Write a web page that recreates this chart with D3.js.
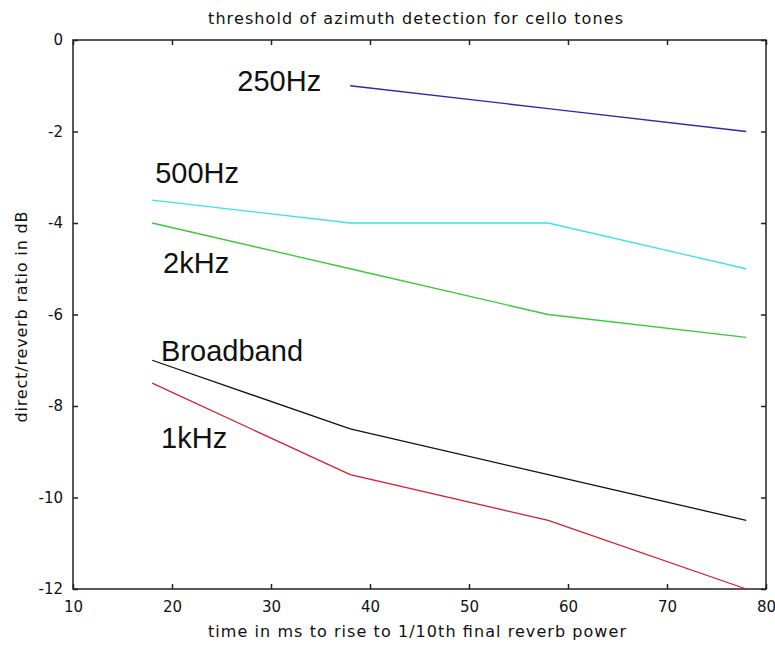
<!DOCTYPE html>
<html>
<head>
<meta charset="utf-8">
<script src="https://cdn.jsdelivr.net/npm/d3@7"></script>
<style>
  body { margin: 0; background: #fff; }
  svg text { font-family: "Liberation Sans", Arial, sans-serif; fill: #111; }
  svg .small { font-family: "DejaVu Sans", sans-serif; }
</style>
</head>
<body>
<div id="chart"></div>
<script>
// values
const rise_times = [18, 38, 58, 78]
const xTicks = [10, 20, 30, 40, 50, 60, 70, 80]
const yTicks = [0, -2, -4, -6, -8, -10, -12]

const series_names = ["250Hz", "500Hz", "2kHz", "Broadband", "1kHz"]
const thr_250 = [null, -1, -1.5, -2]
const thr_500 = [-3.5, -4, -4, -5]
const thr_2k = [-4, -5, -6, -6.5]
const thr_broad = [-7, -8.5, -9.5, -10.5]
const thr_1k = [-7.5, -9.5, -10.5, -12]
const colors = ["#2a2aa6", "#3ee0e6", "#3cc83c", "#111111", "#d41e2e"]

// where the curve names sit, in data units
const label_x = [26.6, 18.3, 19.1, 18.9, 18.9]
const label_y = [-1.11, -3.13, -5.09, -7.02, -8.92]

const width = 775, height = 647
const margin = { top: 40, right: 9, bottom: 58, left: 73 }

const svg = d3.select("#chart").append("svg")
    .attr("width", width)
    .attr("height", height)

const x = d3.scaleLinear().domain([10, 80]).range([margin.left, width - margin.right])
const y = d3.scaleLinear().domain([-12, 0]).range([height - margin.bottom, margin.top])

const tick_len = 5

svg.append("g")
    .attr("transform", `translate(0, ${y(-12)})`)
    .call(d3.axisBottom(x).tickValues(xTicks).tickSizeInner(-tick_len).tickSizeOuter(0).tickPadding(12))
    .call(g => g.select(".domain").remove())
    .call(g => g.selectAll("text").attr("class", "small").attr("font-size", 15))

svg.append("g")
    .attr("transform", `translate(0, ${y(0)})`)
    .call(d3.axisTop(x).tickValues(xTicks).tickSizeInner(-tick_len).tickSizeOuter(0).tickFormat(""))
    .call(g => g.select(".domain").remove())

svg.append("g")
    .attr("transform", `translate(${x(10)}, 0)`)
    .call(d3.axisLeft(y).tickValues(yTicks).tickFormat(d => String(d))
        .tickSizeInner(-tick_len).tickSizeOuter(0).tickPadding(10))
    .call(g => g.select(".domain").remove())
    .call(g => g.selectAll("text").attr("class", "small").attr("font-size", 15))

svg.append("g")
    .attr("transform", `translate(${x(80)}, 0)`)
    .call(d3.axisRight(y).tickValues(yTicks).tickSizeInner(-tick_len).tickSizeOuter(0).tickFormat(""))
    .call(g => g.select(".domain").remove())

svg.selectAll(".tick line").attr("stroke", "#222").attr("stroke-width", 1.5)

svg.append("rect")
    .attr("x", x(10))
    .attr("y", y(0))
    .attr("width", x(80) - x(10))
    .attr("height", y(-12) - y(0))
    .attr("fill", "none")
    .attr("stroke", "#222")
    .attr("stroke-width", 1.5)

const all_series = [thr_250, thr_500, thr_2k, thr_broad, thr_1k]

const line = d3.line()
    .defined(d => d.v !== null)
    .x(d => x(d.t))
    .y(d => y(d.v))

all_series.forEach((vals, i) => {
    const pts = rise_times.map((t, j) => ({ t, v: vals[j] }))
    svg.append("path")
        .datum(pts)
        .attr("fill", "none")
        .attr("stroke", colors[i])
        .attr("stroke-width", 1.3)
        .attr("d", line)
})

svg.selectAll(".curve-label")
    .data(series_names)
    .enter()
    .append("text")
    .attr("class", "curve-label")
    .attr("x", (d, i) => x(label_x[i]))
    .attr("y", (d, i) => y(label_y[i]))
    .attr("font-size", 29)
    .text(d => d)

svg.append("text")
    .attr("class", "small")
    .attr("x", 415.5)
    .attr("y", 24)
    .attr("text-anchor", "middle")
    .attr("font-size", 16)
    .attr("textLength", 415)
    .attr("lengthAdjust", "spacing")
    .text("threshold of azimuth detection for cello tones")

svg.append("text")
    .attr("class", "small")
    .attr("x", 417)
    .attr("y", 637)
    .attr("text-anchor", "middle")
    .attr("font-size", 16)
    .attr("textLength", 418)
    .attr("lengthAdjust", "spacing")
    .text("time in ms to rise to 1/10th final reverb power")

svg.append("text")
    .attr("class", "small")
    .attr("transform", `translate(27, 317) rotate(-90)`)
    .attr("text-anchor", "middle")
    .attr("font-size", 16)
    .attr("textLength", 211)
    .attr("lengthAdjust", "spacing")
    .text("direct/reverb ratio in dB")
</script>
</body>
</html>
